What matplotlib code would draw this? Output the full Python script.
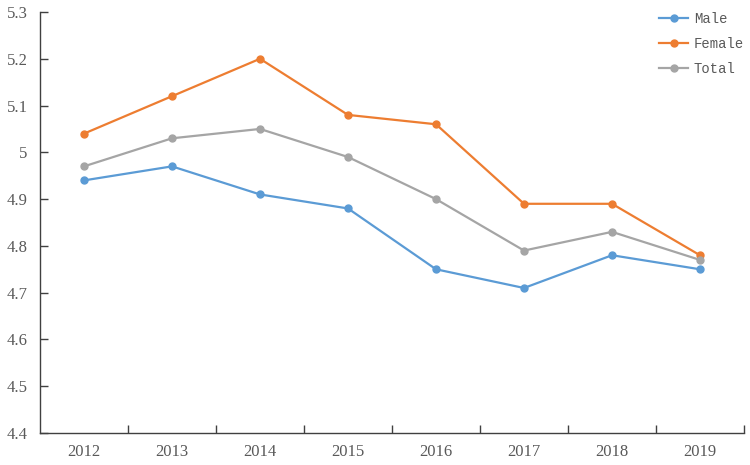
import matplotlib.pyplot as plt
from matplotlib.ticker import FixedLocator, NullFormatter

years = ["2012", "2013", "2014", "2015", "2016", "2017", "2018", "2019"]
male = [4.94, 4.97, 4.91, 4.88, 4.75, 4.71, 4.78, 4.75]
female = [5.04, 5.12, 5.20, 5.08, 5.06, 4.89, 4.89, 4.78]
total = [4.97, 5.03, 5.05, 4.99, 4.90, 4.79, 4.83, 4.77]
y_ticks = [4.4, 4.5, 4.6, 4.7, 4.8, 4.9, 5.0, 5.1, 5.2, 5.3]

fig = plt.figure(figsize=(7.5, 4.65), dpi=100)
ax = fig.add_axes([40 / 750, 32 / 465, 704 / 750, 421 / 465])

x = list(range(len(years)))
series = [("Male", male, "#5B9BD5"), ("Female", female, "#ED7D31"), ("Total", total, "#A5A5A5")]
for name, vals, col in series:
    ax.plot(x, vals, color=col, lw=1.6, marker="o", ms=5, label=name)

ax.set_xlim(-0.5, len(years) - 0.5)
ax.set_ylim(4.4, 5.3)

# category axis: ticks at the boundaries, labels centred
ax.xaxis.set_major_locator(FixedLocator([i + 0.5 for i in x]))
ax.xaxis.set_major_formatter(NullFormatter())
ax.xaxis.set_minor_locator(FixedLocator(x))
ax.set_xticklabels(years, minor=True)
ax.tick_params(axis="x", which="major", direction="in", length=6, width=1, color="#404040")
ax.tick_params(axis="x", which="minor", length=0, pad=8, labelsize=12, labelcolor="#595959")

ax.set_yticks(y_ticks)
ax.set_yticklabels([f"{v:g}" for v in y_ticks])
ax.tick_params(axis="y", direction="in", length=6, width=1, color="#404040", pad=9,
               labelsize=12, labelcolor="#595959")
for lbl in ax.get_xticklabels(minor=True) + ax.get_yticklabels():
    lbl.set_fontfamily("Liberation Serif")

for s in ["top", "right"]:
    ax.spines[s].set_visible(False)
for s in ["left", "bottom"]:
    ax.spines[s].set_color("#404040")
    ax.spines[s].set_linewidth(1)

leg = ax.legend(loc="upper right", bbox_to_anchor=(1.018, 1.03), frameon=False,
                prop={"family": "Liberation Mono", "size": 10}, handlelength=2.1,
                labelspacing=0.78, handletextpad=0.4)
for t in leg.get_texts():
    t.set_color("#595959")

fig.savefig("out.png", dpi=100)
